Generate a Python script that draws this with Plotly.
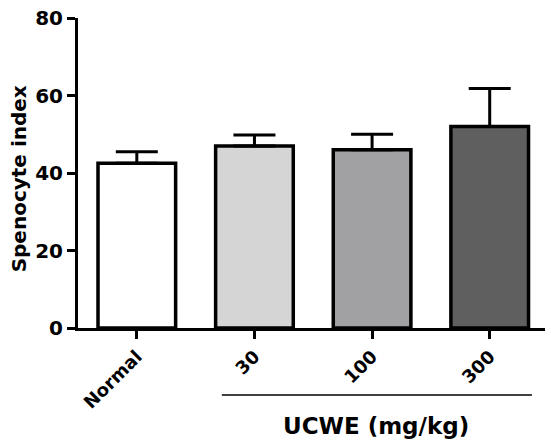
import plotly.graph_objects as go

categories = ["Normal", "30", "100", "300"]
means = [42.5, 47.0, 46.0, 52.0]
sem = [3.0, 2.8, 4.0, 9.8]
colors = ["#ffffff", "#d5d5d5", "#a1a1a3", "#5f5f5f"]

FONT = "DejaVu Sans, sans-serif"

fig = go.Figure()
fig.add_trace(go.Bar(
    x=categories, y=means,
    width=0.66,
    marker=dict(color=colors, line=dict(color="black", width=3.5)),
    error_y=dict(type="data", array=sem, arrayminus=[0]*len(sem), symmetric=False,
                 color="black", thickness=3, width=21),
))

fig.update_layout(
    width=551, height=441,
    margin=dict(l=78, r=6, t=15, b=113),
    paper_bgcolor="white", plot_bgcolor="white",
    showlegend=False,
    font=dict(family=FONT, color="black"),
    xaxis=dict(
        range=[-0.5, 3.47],
        showline=True, linecolor="black", linewidth=3,
        ticks="outside", ticklen=8, tickwidth=3, tickcolor="black",
        tickangle=-45,
        tickfont=dict(family=FONT, size=18, color="black", weight="bold"),
        showgrid=False, zeroline=False,
    ),
    yaxis=dict(
        range=[0, 80], tickvals=[0, 20, 40, 60, 80],
        showline=True, linecolor="black", linewidth=3,
        ticks="outside", ticklen=8, tickwidth=3, tickcolor="black",
        tickfont=dict(family=FONT, size=20, color="black", weight="bold"),
        showgrid=False, zeroline=False,
    ),
)

fig.add_annotation(text="Spenocyte index", xref="paper", yref="paper",
                   x=-0.126, y=0.48, xanchor="center", yanchor="middle",
                   textangle=-90, showarrow=False,
                   font=dict(family=FONT, size=20, color="black", weight="bold"))
fig.add_shape(type="line", xref="paper", yref="paper",
              x0=0.308, x1=0.972, y0=-0.216, y1=-0.216,
              line=dict(color="black", width=1.5))
fig.add_annotation(text="UCWE (mg/kg)", xref="paper", yref="paper",
                   x=0.638, y=-0.315, xanchor="center", yanchor="middle",
                   showarrow=False,
                   font=dict(family=FONT, size=23, color="black", weight="bold"))

fig.write_html("out.html")
